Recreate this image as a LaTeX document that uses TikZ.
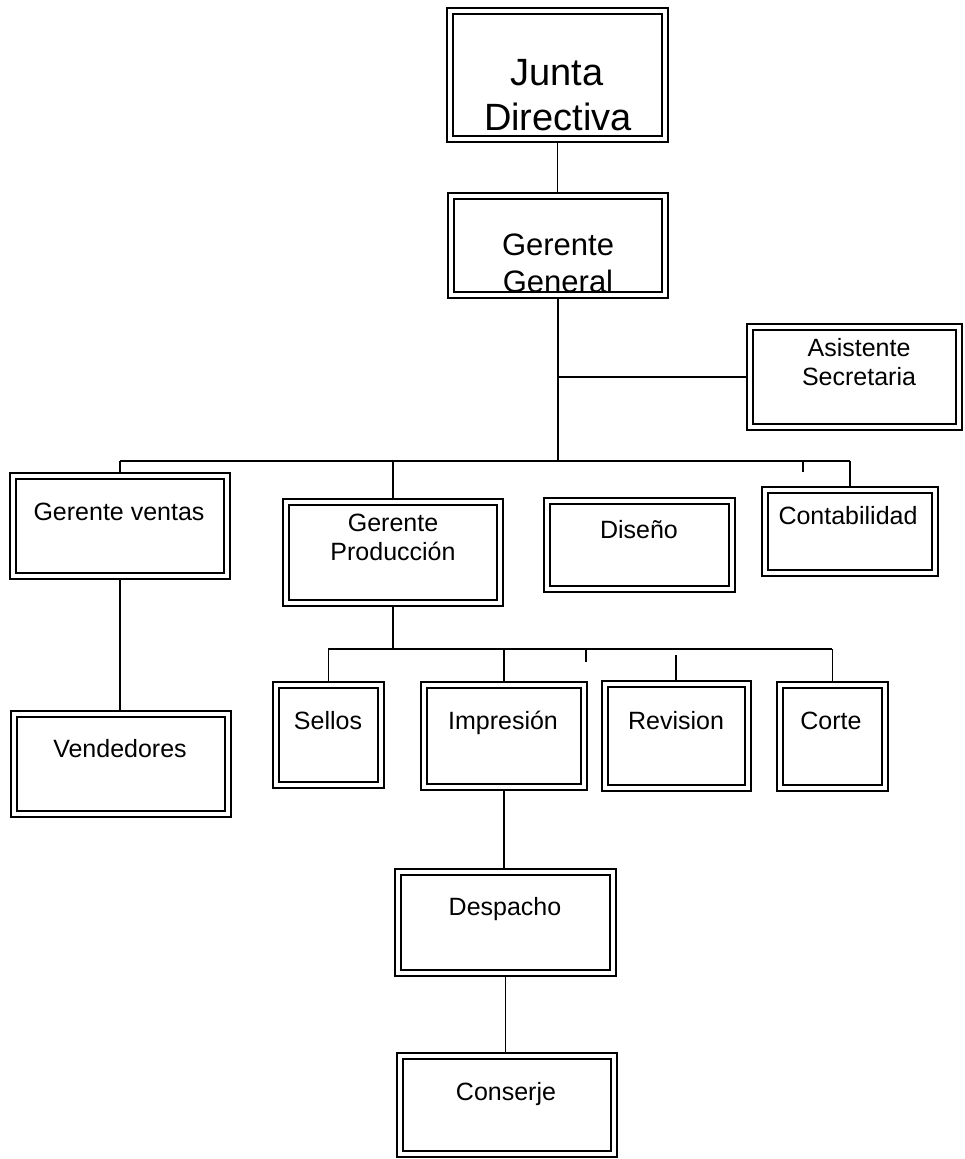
\documentclass[tikz,border=0pt]{standalone}
\usepackage{fontspec}
\setmainfont{Liberation Sans}
\newcommand\orgbox[5]{%
  \node[obox, minimum width={(#4-#2)*1pt}, minimum height={(#5-#3)*1pt}] (#1) at ({(#2+#4)/2},{(#3+#5)/2}) {};
  \draw[ibox] ([xshift=6pt,yshift=-6pt]#1.north west) rectangle ([xshift=-6pt,yshift=6pt]#1.south east);
}
\begin{document}
\begin{tikzpicture}[x=1pt,y=-1pt,
  obox/.style={draw=black, line width=1.4pt, inner sep=0pt, outer sep=0pt, fill=white},
  ibox/.style={draw=black, line width=2.4pt},
  conn/.style={draw=black, line width=1.7pt},
  lbl/.style={anchor=base, inner sep=0pt, font=\fontsize{25}{29}\selectfont},
  lblgg/.style={anchor=base, inner sep=0pt, font=\fontsize{31}{37}\selectfont},
  lbljd/.style={anchor=base, inner sep=0pt, font=\fontsize{38}{45}\selectfont}]
\useasboundingbox (0,0) rectangle (965,1159);
\fill[white] (0,0) rectangle (965,1159);

% boxes
\orgbox{JD}{447}{8}{668}{142}
\orgbox{GG}{448}{193}{668}{298}
\orgbox{AS}{747}{324}{962}{430}
\orgbox{GV}{10}{473}{230}{579}
\orgbox{VE}{11}{711}{231}{817}
\orgbox{GP}{283}{499}{503}{606}
\orgbox{DI}{544}{498}{735}{592}
\orgbox{CO}{762}{487}{938}{576}
\orgbox{SE}{273}{682}{384}{788}
\orgbox{IM}{421}{682}{587}{790}
\orgbox{RE}{602}{681}{751}{791}
\orgbox{CT}{777}{682}{888}{791}
\orgbox{DE}{395}{869}{616}{976}
\orgbox{CJ}{397}{1053}{617}{1157}

% labels
\node[lbljd] (jd1) at (557,85) {Junta};
\node[lbljd] (jd2) at (558,130) {Directiva};
\node[lblgg] (gg1) at (558,255) {Gerente};
\node[lblgg] (gg2) at (558,292) {General};
\node[lbl] (as1) at (859,356) {Asistente};
\node[lbl] (as2) at (859,385) {Secretaria};
\node[lbl] (gv1) at (119,520) {Gerente ventas};
\node[lbl] (ve1) at (120,757) {Vendedores};
\node[lbl] (gp1) at (393,531) {Gerente};
\node[lbl] (gp2) at (393,560) {Producción};
\node[lbl] (di1) at (639,538) {Diseño};
\node[lbl] (co1) at (848,524) {Contabilidad};
\node[lbl] (se1) at (328,729) {Sellos};
\node[lbl] (im1) at (503,729) {Impresión};
\node[lbl] (re1) at (676,729) {Revision};
\node[lbl] (ct1) at (831,729) {Corte};
\node[lbl] (de1) at (505,915) {Despacho};
\node[lbl] (cj1) at (506,1100) {Conserje};

% connector coordinates
\coordinate (barL) at (120,461);
\coordinate (barR) at (850,461);
\coordinate (tickA) at (803,461);
\coordinate (tickB) at (803,472);
\coordinate (subL) at (328,649);
\coordinate (subR) at (832,649);
\coordinate (tickC) at (586,649);
\coordinate (tickD) at (586,662);
\coordinate (reTop) at (676,655);

% connectors
\draw[conn] (JD.south) -- (JD.south |- GG.north);
\draw[conn] (GG.south) -- (GG.south |- barL);
\draw[conn] (AS.west -| GG.south) -- (AS.west);
\draw[conn] (barL) -- (barR);
\draw[conn] (tickA) -- (tickB);
\draw[conn] (GV.north |- barL) -- (GV.north);
\draw[conn] (GP.north |- barL) -- (GP.north);
\draw[conn] (CO.north |- barR) -- (CO.north);
\draw[conn] (GV.south) -- (GV.south |- VE.north);
\draw[conn] (GP.south) -- (GP.south |- subL);
\draw[conn] (subL) -- (subR);
\draw[conn] (tickC) -- (tickD);
\draw[conn] (SE.north |- subL) -- (SE.north);
\draw[conn] (IM.north |- subL) -- (IM.north);
\draw[conn] (reTop) -- (reTop |- RE.north);
\draw[conn] (CT.north |- subR) -- (CT.north);
\draw[conn] (IM.south) -- (IM.south |- DE.north);
\draw[conn] (DE.south) -- (DE.south |- CJ.north);
\end{tikzpicture}
\end{document}
